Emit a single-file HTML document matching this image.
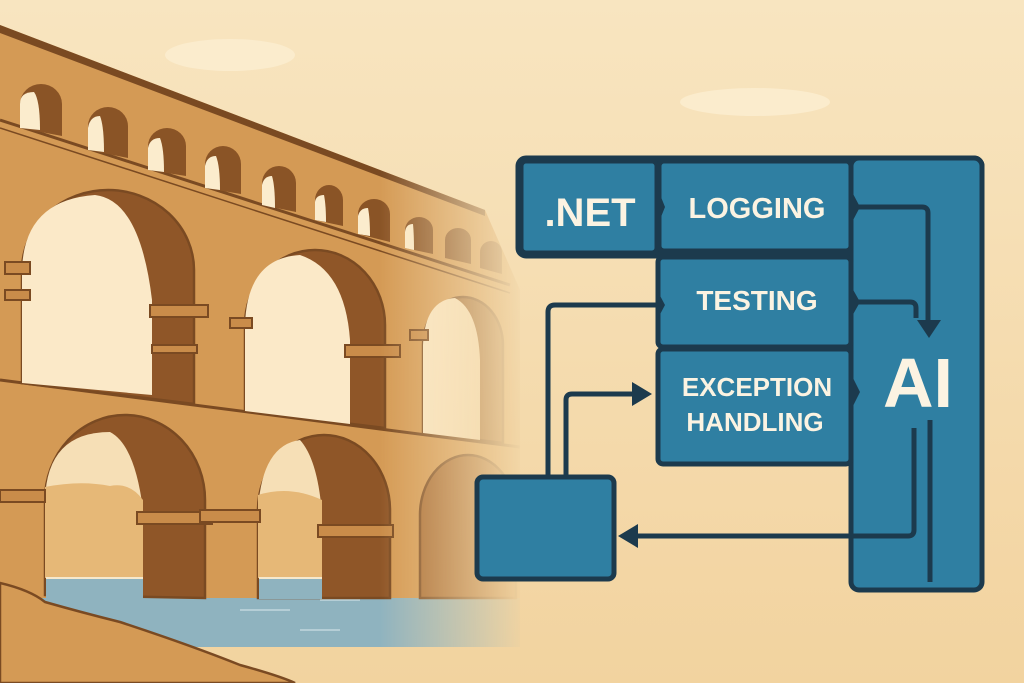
<!DOCTYPE html>
<html><head><meta charset="utf-8"><style>
html,body{margin:0;padding:0;background:#f6deb2;}
svg{display:block}
text{font-family:"Liberation Sans",sans-serif;font-weight:bold;fill:#fbf3e2}
</style></head><body>
<svg width="1024" height="683" viewBox="0 0 1024 683" xmlns="http://www.w3.org/2000/svg">
<defs>
<linearGradient id="bg" x1="0" y1="0" x2="0" y2="1"><stop offset="0" stop-color="#f8e5c0"/><stop offset="1" stop-color="#f2d39f"/></linearGradient>
<linearGradient id="mg" gradientUnits="userSpaceOnUse" x1="380" y1="0" x2="525" y2="0"><stop offset="0" stop-color="#fff"/><stop offset="1" stop-color="#000"/></linearGradient>
<mask id="m" maskUnits="userSpaceOnUse" x="0" y="0" width="1024" height="683"><rect width="1024" height="683" fill="url(#mg)"/></mask>
</defs>
<rect width="1024" height="683" fill="url(#bg)"/>
<ellipse cx="230" cy="55" rx="65" ry="16" fill="#fbeccd"/>
<ellipse cx="755" cy="102" rx="75" ry="14" fill="#fbeccd"/>
<g mask="url(#m)">
<rect x="40" y="577" width="480" height="70" fill="#8fb3bf"/>
<g stroke="#d8e8ea" stroke-width="1.5" opacity="0.7"><line x1="100" y1="595" x2="140" y2="595"/><line x1="240" y1="610" x2="290" y2="610"/><line x1="300" y1="630" x2="340" y2="630"/><line x1="320" y1="600" x2="360" y2="600"/></g>
<polygon points="0,25 485,210 520,290 520,598 0,598" fill="#d49a55"/>
<polygon points="0,25 485,210 485,216 0,33" fill="#7a4a22"/>
<polyline points="0,120 510,285" stroke="#7a4a22" stroke-width="3" fill="none"/>
<polyline points="0,128 510,293" stroke="#7a4a22" stroke-width="1.5" fill="none"/>
<polyline points="0,380 520,447" stroke="#7a4a22" stroke-width="3" fill="none"/>
<g fill="#8a5426">
<path d="M20 128 V104 a21 20 0 0 1 42 0 V136 Z"/>
<path d="M88 150 V126 a20 19 0 0 1 40 0 V158 Z"/>
<path d="M148 170 V146 a19 18 0 0 1 38 0 V176 Z"/>
<path d="M205 188 V164 a18 18 0 0 1 36 0 V194 Z"/>
<path d="M262 205 V183 a17 17 0 0 1 34 0 V212 Z"/>
<path d="M315 220 V200 a14 15 0 0 1 28 0 V226 Z"/>
<path d="M358 234 V214 a16 15 0 0 1 32 0 V242 Z"/>
<path d="M405 248 V230 a14 13 0 0 1 28 0 V254 Z"/>
<path d="M445 258 V240 a13 12 0 0 1 26 0 V264 Z"/>
<path d="M480 268 V252 a11 11 0 0 1 22 0 V274 Z"/>
</g>
<g fill="#fbeccd">
<path d="M20 128 V104 Q20 92 34 92 Q40 100 40 130Z"/>
<path d="M88 150 V128 Q90 116 100 116 Q104 126 104 152Z"/>
<path d="M148 170 V148 Q150 138 160 138 Q164 148 164 172Z"/>
<path d="M205 188 V166 Q207 156 216 156 Q220 166 220 190Z"/>
<path d="M262 205 V185 Q264 176 272 176 Q275 186 275 208Z"/>
<path d="M315 220 V202 Q316 195 324 195 Q326 205 326 222Z"/>
<path d="M358 234 V216 Q360 208 368 208 Q370 218 370 236Z"/>
<path d="M405 248 V232 Q406 224 413 224 Q414 234 414 250Z"/>
</g>
<g stroke="#7a4a22" stroke-width="2.5">
<path d="M22 383 V270 a86 80 0 0 1 172 0 V404 Z" fill="#8f5628"/>
<path d="M22 383 V270 Q24 200 95 195 Q140 200 152 300 V395 Z" fill="#fbe9c8" stroke="none"/>
<path d="M245 411 V325 a70 75 0 0 1 140 0 V428 Z" fill="#8f5628"/>
<path d="M245 411 V325 Q247 258 300 255 Q345 270 350 340 V424 Z" fill="#fbe9c8" stroke="none"/>
<path d="M423 433 V345 a40 48 0 0 1 80 0 V443 Z" fill="#9c6430"/>
<path d="M423 433 V345 Q425 300 455 298 Q478 310 480 360 V440Z" fill="#fbe9c8" stroke="none"/>
</g>
<g fill="#c98c4a" stroke="#7a4a22" stroke-width="2">
<rect x="5" y="262" width="25" height="12"/><rect x="5" y="290" width="25" height="10"/>
<rect x="150" y="305" width="58" height="12"/><rect x="152" y="345" width="45" height="8"/>
<rect x="230" y="318" width="22" height="10"/><rect x="345" y="345" width="55" height="12"/>
<rect x="410" y="330" width="18" height="10"/>
</g>
<g stroke="#7a4a22" stroke-width="2.5">
<path d="M45 595 V500 a80 85 0 0 1 160 0 V598 Z" fill="#8f5628"/>
<path d="M45 578 V500 Q47 432 110 432 Q135 445 143 510 V578 Z" fill="#f6dfb6" stroke="none"/>
<path d="M45 578 V487 Q80 480 110 486 Q130 482 143 500 V578Z" fill="#e6b877" stroke="none"/>
<path d="M258 598 V510 a66 75 0 0 1 132 0 V598 Z" fill="#8f5628"/>
<path d="M258 578 V510 Q262 445 300 440 Q318 460 322 515 V578 Z" fill="#f6dfb6" stroke="none"/>
<path d="M258 578 V495 Q290 485 322 500 V578Z" fill="#e6b877" stroke="none"/>
<path d="M420 598 V515 a48 60 0 0 1 96 0 V598Z" fill="#a86c35"/>
</g>
<rect x="46" y="577" width="97" height="22" fill="#8fb3bf"/>
<rect x="259" y="577" width="63" height="22" fill="#8fb3bf"/>
<rect x="46" y="577" width="97" height="2" fill="#f6e8cc"/>
<rect x="259" y="577" width="63" height="2" fill="#f6e8cc"/>
<g fill="#c98c4a" stroke="#7a4a22" stroke-width="2">
<rect x="0" y="490" width="45" height="12"/><rect x="137" y="512" width="75" height="12"/><rect x="200" y="510" width="60" height="12"/><rect x="318" y="525" width="75" height="12"/>
</g>
</g>
<path d="M0 583 Q30 590 45 602 Q80 612 120 622 Q190 645 240 665 Q280 676 295 683 L0 683Z" fill="#d49a55" stroke="#7a4a22" stroke-width="2.5"/>
<g stroke="#1c3a4d" stroke-width="5" stroke-linejoin="round">
<rect x="518" y="158" width="464" height="98" rx="8" fill="#1c3a4d"/>
<rect x="851" y="158" width="131" height="432" rx="8" fill="#2f7fa2"/>
<rect x="521" y="161" width="136" height="92" rx="5" fill="#2f7fa2"/>
<rect x="659" y="161" width="192" height="90" rx="5" fill="#2f7fa2"/>
<rect x="658" y="257" width="193" height="90" rx="5" fill="#2f7fa2"/>
<rect x="658" y="349" width="193" height="115" rx="5" fill="#2f7fa2"/>
<rect x="477" y="477" width="137" height="102" rx="6" fill="#2f7fa2"/>
</g>
<text x="590" y="226" font-size="40" text-anchor="middle">.NET</text>
<text x="757" y="218" font-size="29" text-anchor="middle">LOGGING</text>
<text x="757" y="310" font-size="28" text-anchor="middle">TESTING</text>
<text x="757" y="396" font-size="26" text-anchor="middle">EXCEPTION</text>
<text x="755" y="431" font-size="26" text-anchor="middle">HANDLING</text>
<text x="918" y="407" font-size="70" text-anchor="middle">AI</text>
<g stroke="#1c3a4d" stroke-width="5" fill="none">
<path d="M852 207 H922 Q928 207 928 213 V322"/>
<path d="M852 302 H910 Q916 302 916 308 V318"/>
<path d="M548 477 V312 Q548 305 555 305 H660"/>
<path d="M566 477 V400 Q566 394 572 394 H635"/>
<path d="M914 428 V530 Q914 536 908 536 H635"/>
<path d="M930 420 V582"/>
</g>
<g fill="#1c3a4d">
<polygon points="917,320 941,320 929,338"/>
<polygon points="632,382 652,394 632,406"/>
<polygon points="638,524 618,536 638,548"/>
<polygon points="657,187 665,207 657,227"/>
<polygon points="851,190 860,207 851,224"/>
<polygon points="851,286 860,302 851,318"/>
<polygon points="851,374 860,392 851,410"/>
<polygon points="657,290 665,305 657,320"/>
</g>
</svg>
</body></html>
